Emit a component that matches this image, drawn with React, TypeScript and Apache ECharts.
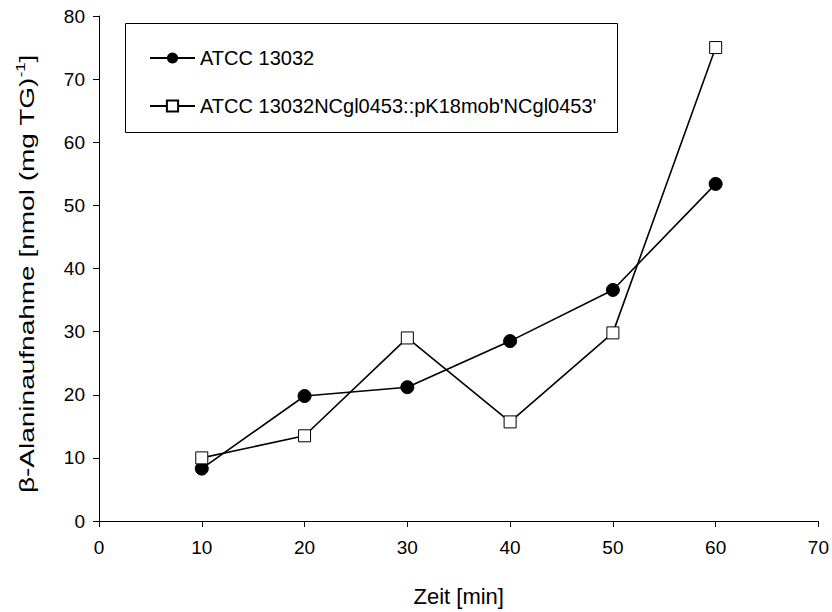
import React, { useEffect, useRef } from "react";
import * as echarts from "echarts";

const xValues = [10, 20, 30, 40, 50, 60];
const wildType = [8.3, 19.8, 21.2, 28.5, 36.6, 53.4];
const mutant = [10.0, 13.5, 29.0, 15.7, 29.8, 75.0];
const seriesNames = ["ATCC 13032", "ATCC 13032NCgl0453::pK18mob'NCgl0453'"];
const xTitle = "Zeit [min]";
const yTitleMain = "β-Alaninaufnahme [nmol (mg TG)";
const yTitleSup = "-1";
const yTitleEnd = "]";

const FONT = "'Liberation Sans', Arial, sans-serif";

export default function App() {
  const ref = useRef<HTMLDivElement>(null);
  useEffect(() => {
    if (!ref.current) return;
    const chart = echarts.init(ref.current, null, { renderer: "svg" });
    chart.setOption({
      animation: false,
      backgroundColor: "#ffffff",
      textStyle: { fontFamily: FONT },
      grid: { left: 99, right: 11, top: 16, bottom: 91, containLabel: false },
      xAxis: {
        type: "value",
        min: 0,
        max: 70,
        interval: 10,
        name: xTitle,
        nameLocation: "middle",
        nameGap: 64,
        nameTextStyle: { fontSize: 22, color: "#000", fontFamily: FONT },
        axisLine: { show: true, onZero: false, lineStyle: { color: "#000", width: 1 } },
        axisTick: { show: true, inside: false, length: 6, lineStyle: { color: "#000" } },
        axisLabel: { fontSize: 19, color: "#000", margin: 17, fontFamily: FONT },
        splitLine: { show: false },
      },
      yAxis: {
        type: "value",
        min: 0,
        max: 80,
        interval: 10,
        axisLine: { show: true, lineStyle: { color: "#000", width: 1 } },
        axisTick: { show: true, inside: false, length: 6, lineStyle: { color: "#000" } },
        axisLabel: { fontSize: 19, color: "#000", margin: 14, fontFamily: FONT },
        splitLine: { show: false },
      },
      legend: {
        orient: "vertical",
        left: 144,
        top: 43,
        itemWidth: 45,
        itemHeight: 14,
        itemGap: 28,
        textStyle: { fontSize: 20, color: "#000", fontFamily: FONT },
        data: seriesNames,
      },
      graphic: [
        {
          type: "rect",
          shape: { x: 125.5, y: 23.5, width: 492, height: 109 },
          style: { fill: "none", stroke: "#000", lineWidth: 1 },
          z: 10,
        },
        {
          type: "text",
          x: 27,
          y: 274,
          rotation: Math.PI / 2,
          scaleX: 1.4,
          scaleY: 1,
          style: {
            text: yTitleMain + "{sup|" + yTitleSup + "}" + yTitleEnd,
            fontSize: 20,
            fontFamily: FONT,
            fill: "#000",
            align: "center",
            verticalAlign: "middle",
            rich: {
              sup: { fontSize: 12, fontFamily: FONT, fill: "#000", verticalAlign: "top", padding: [0, 0, 12, 0] },
            },
          },
        },
      ],
      series: [
        {
          name: seriesNames[0],
          type: "line",
          data: xValues.map((x, i) => [x, wildType[i]]),
          symbol: "circle",
          symbolSize: 13,
          lineStyle: { color: "#000", width: 1.6 },
          itemStyle: { color: "#000", borderColor: "#000" },
          z: 3,
        },
        {
          name: seriesNames[1],
          type: "line",
          data: xValues.map((x, i) => [x, mutant[i]]),
          symbol: "rect",
          symbolSize: 12,
          lineStyle: { color: "#000", width: 1.6 },
          itemStyle: { color: "#fff", borderColor: "#000", borderWidth: 1 },
          z: 4,
        },
      ],
    });
    return () => chart.dispose();
  }, []);
  return <div ref={ref} style={{ width: 832, height: 612, position: "absolute", left: 0, top: 0 }} />;
}
